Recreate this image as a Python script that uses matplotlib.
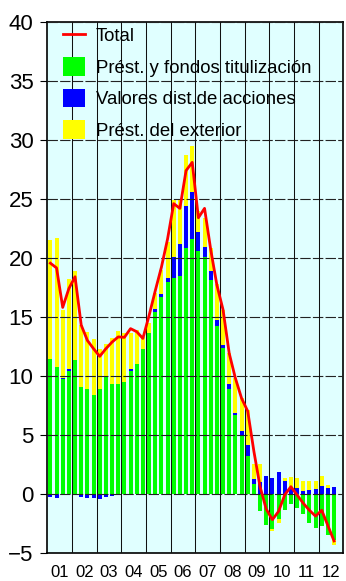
import numpy as np
import matplotlib
matplotlib.use("Agg")
import matplotlib.pyplot as plt
from matplotlib.lines import Line2D
from matplotlib.patches import Patch

plt.rcParams["font.family"] = ["Liberation Sans", "DejaVu Sans"]
plt.rcParams["lines.scale_dashes"] = False

# Quarterly series, 2001Q1 .. 2012Q3 (% y/y contributions)
YEARS = ["01", "02", "03", "04", "05", "06", "07", "08", "09", "10", "11", "12"]

GREEN = [11.45, 10.72, 9.70, 10.44, 11.30, 9.05, 8.86, 8.40,
         8.86, 9.99, 9.34, 9.28, 9.45, 10.44, 11.00, 12.24,
         13.60, 15.45, 16.65, 17.97, 18.30, 18.45, 20.80, 21.60,
         20.56, 20.10, 18.10, 14.25, 12.33, 8.86, 6.66, 5.00,
         3.20, 0.82, -1.50, -2.62, -2.95, -2.10, -1.40, -0.90,
         -1.20, -1.72, -2.48, -2.90, -2.76, -3.47, -3.90]

BLUE = [-0.30, -0.40, 0.15, 0.12, 0.00, -0.25, -0.35, -0.40,
        -0.45, -0.30, -0.20, -0.10, 0.00, 0.10, 0.00, 0.00,
        0.00, 0.25, 0.28, 0.35, 1.75, 2.70, 3.60, 4.00,
        1.65, 0.80, 0.77, 0.45, 0.27, 0.44, 0.22, 0.33,
        0.95, 0.42, 1.00, 1.52, 1.33, 1.83, 1.10, 0.50,
        0.48, 0.20, 0.34, 0.40, 0.62, 0.48, 0.56]

YELLOW = [10.05, 10.94, 5.70, 7.64, 7.60, 5.25, 4.84, 4.70,
          3.38, 2.73, 3.86, 4.49, 4.20, 3.06, 2.90, 1.06,
          0.90, 1.30, 2.03, 3.03, 4.89, 3.79, 4.30, 3.90,
          1.79, 2.50, 1.93, 3.10, 3.00, 2.60, 2.92, 2.77,
          2.95, 1.31, 1.50, 0.00, -0.20, -0.40, 0.23, 0.90,
          0.85, 0.90, 0.76, 0.70, 0.85, 0.28, -0.45]

TOTAL = [19.55, 19.15, 15.80, 17.40, 18.40, 14.30, 13.00, 12.30,
         11.65, 12.30, 12.86, 13.30, 13.26, 14.00, 13.74, 13.17,
         15.10, 17.20, 19.20, 21.60, 24.60, 24.20, 27.40, 28.10,
         23.40, 24.20, 20.70, 17.70, 15.60, 11.90, 9.80, 8.10,
         7.00, 3.60, 0.60, -1.30, -2.20, -1.50, -0.10, 0.60,
         -0.10, -0.80, -1.40, -1.90, -1.40, -2.70, -4.00]

LABELS = ["Total", "Prést. y fondos titulización",
          "Valores dist.de acciones", "Prést. del exterior"]
COLORS = ["#00ff00", "#0000ff", "#ffff00"]

fig = plt.figure(figsize=(3.46, 5.81), dpi=100)
ax = fig.add_axes([0.1367, 0.0487, 0.8555, 0.9134])
ax.set_facecolor("#e0ffff")

x = np.arange(len(TOTAL)) + 0.5
pos_bottom = np.zeros(len(x))
neg_bottom = np.zeros(len(x))
for vals, color in zip([GREEN, BLUE, YELLOW], COLORS):
    v = np.array(vals)
    bottom = np.where(v >= 0, pos_bottom, neg_bottom)
    ax.bar(x, v, 0.65, bottom=bottom, color=color, linewidth=0, zorder=2)
    pos_bottom += np.clip(v, 0, None)
    neg_bottom += np.clip(v, None, 0)

ax.plot(x, TOTAL, color="#ff0000", lw=2.0, zorder=4)

# gridlines: dashed horizontals, solid year separators
for yv in range(-5, 41, 5):
    ax.axhline(yv, color="#222222", lw=0.8, ls=(0, (7.5, 1.6)), zorder=3)
for k in range(4, 48, 4):
    ax.axvline(k, color="#111111", lw=0.75, zorder=3)

ax.set_xlim(0, 48)
ax.set_ylim(-5, 40)
ax.set_yticks(range(-5, 41, 5))
ax.set_xticks(np.arange(2, 48, 4))
ax.set_xticklabels(YEARS)
ax.tick_params(axis="x", length=0, pad=9, labelsize=12)
ax.tick_params(axis="y", length=5, width=0.8, pad=5, labelsize=16)
for s in ax.spines.values():
    s.set_linewidth(1.2)

handles = [Line2D([], [], color="#ff0000", lw=2.0)] + \
          [Patch(facecolor=c, edgecolor="none") for c in COLORS]
ax.legend(handles, LABELS, loc="upper left", bbox_to_anchor=(0.053, 0.993),
          frameon=False, fontsize=13.4, handlelength=1.18, handleheight=1.18,
          handletextpad=0.58, labelspacing=0.63, borderpad=0,
          borderaxespad=0).set_zorder(5)

fig.savefig("out.png", dpi=100)
